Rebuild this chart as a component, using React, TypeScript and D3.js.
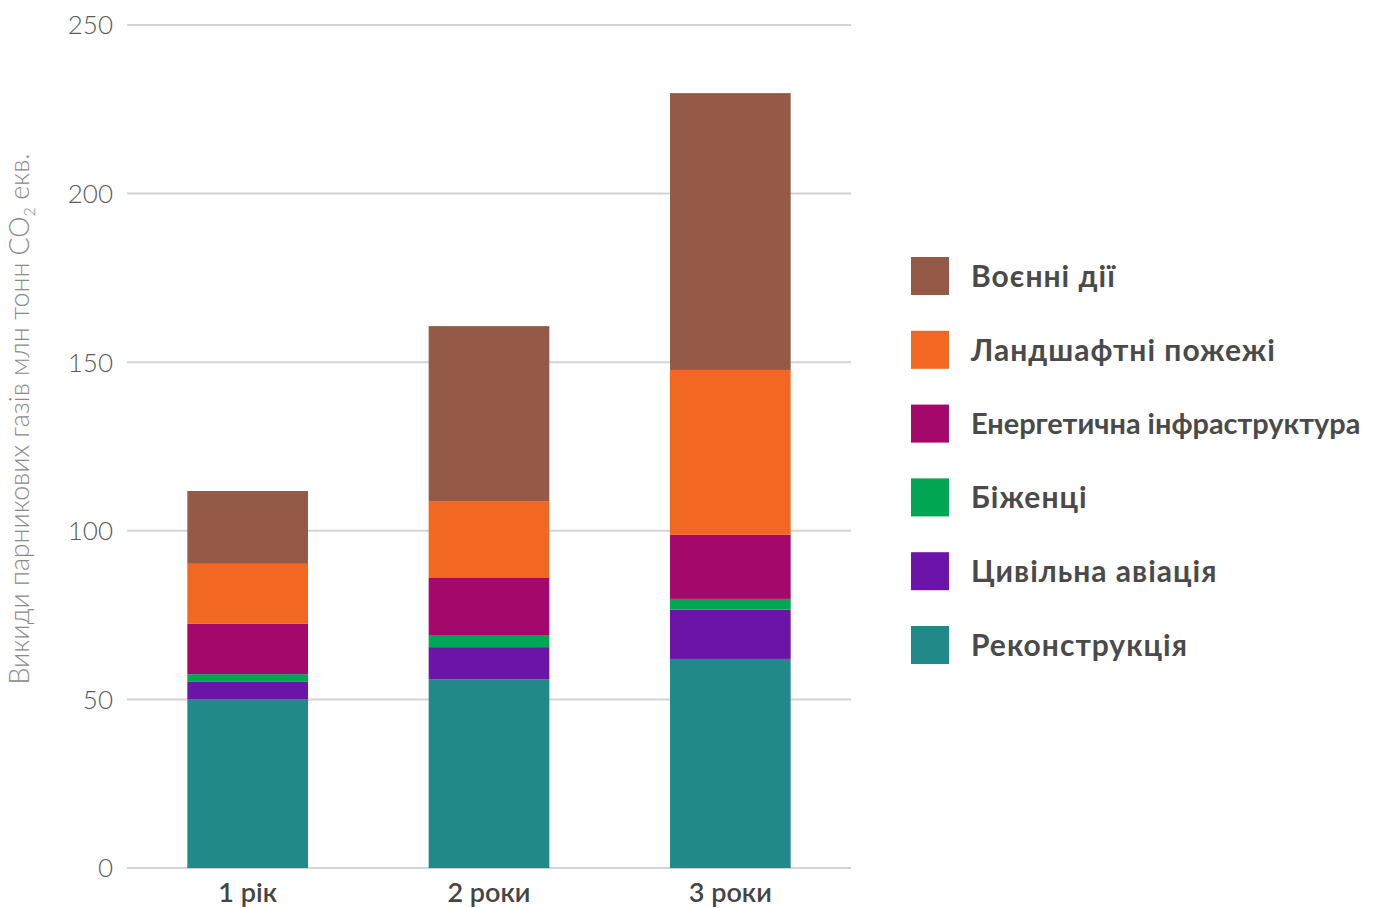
import React from "react";
import * as d3 from "d3";

const categories = ["1 рік", "2 роки", "3 роки"];
const seriesNames = [
  "Реконструкція",
  "Цивільна авіація",
  "Біженці",
  "Енергетична інфраструктура",
  "Ландшафтні пожежі",
  "Воєнні дії",
];
const reconstruction = [50.0, 56.0, 62.0];
const civilAviation = [5.2, 9.5, 14.6];
const refugees = [2.3, 3.6, 3.2];
const energy = [14.9, 16.9, 19.0];
const wildfires = [17.8, 22.8, 48.9];
const warfare = [21.6, 51.9, 82.1];
const yTicks = [0, 50, 100, 150, 200, 250];
const colors = ["#218987", "#6D14A8", "#00A651", "#A4086B", "#F26722", "#955A47"];

const W = 1379;
const H = 908;
const left = 127;
const right = 851;
const y0 = 868;
const yTop = 25;

export default function App() {
  const values = [reconstruction, civilAviation, refugees, energy, wildfires, warfare];
  const rows = categories.map((c, i) => {
    const r: Record<string, number | string> = { cat: c };
    seriesNames.forEach((s, k) => (r[s] = values[k][i]));
    return r;
  });
  const stack = d3.stack<any>().keys(seriesNames)(rows as any);
  const x = d3.scaleBand<string>().domain(categories).range([left, right]).paddingInner(0.5).paddingOuter(0.25);
  const y = d3.scaleLinear().domain([0, 250]).range([y0, yTop]);

  const legendOrder = [...seriesNames].reverse();
  const legendColors = [...colors].reverse();
  const legendY0 = 257;
  const legendStep = 73.8;

  return (
    <svg width={W} height={H} style={{ position: "absolute", left: 0, top: 0, background: "#fff" }}>
      {yTicks.map((t) => (
        <g key={t}>
          <line x1={left} x2={right} y1={y(t)} y2={y(t)} stroke="#d3d3d3" strokeWidth={2} />
          <text
            x={113}
            y={y(t)}
            dy="0.36em"
            textAnchor="end"
            fontFamily="Lato"
            fontWeight={300}
            fontSize={26}
            fill="#5a5a5a"
          >
            {t}
          </text>
        </g>
      ))}
      {stack.map((layer, k) => (
        <g key={layer.key} fill={colors[k]}>
          {layer.map((d, i) => (
            <rect
              key={i}
              x={x(categories[i])}
              width={x.bandwidth()}
              y={y(d[1])}
              height={y(d[0]) - y(d[1])}
            />
          ))}
        </g>
      ))}
      {categories.map((c) => (
        <text
          key={c}
          x={(x(c) as number) + x.bandwidth() / 2}
          y={902}
          textAnchor="middle"
          fontFamily="Lato"
          fontWeight={600}
          fontSize={27}
          fill="#454545"
        >
          {c}
        </text>
      ))}
      <text
        transform={`translate(29, ${419}) rotate(-90)`}
        textAnchor="middle"
        fontFamily="Lato"
        fontWeight={300}
        fontSize={26.8}
        fill="#8a8a8a"
      >
        Викиди парникових газів млн тонн CO
        <tspan fontSize={16} dy={6}>2</tspan>
        <tspan dy={-6}> екв.</tspan>
      </text>
      {legendOrder.map((s, i) => {
        const long = s === "Енергетична інфраструктура";
        return (
          <g key={s} transform={`translate(911, ${legendY0 + i * legendStep})`}>
            <rect width={38} height={38} fill={legendColors[i]} />
            <text
              x={60}
              y={19}
              dy="0.36em"
              fontFamily="Lato"
              fontWeight={700}
              fontSize={long ? 28.9 : 30}
              letterSpacing={long ? 0 : 1}
              fill="#4a4a4a"
            >
              {s}
            </text>
          </g>
        );
      })}
    </svg>
  );
}
